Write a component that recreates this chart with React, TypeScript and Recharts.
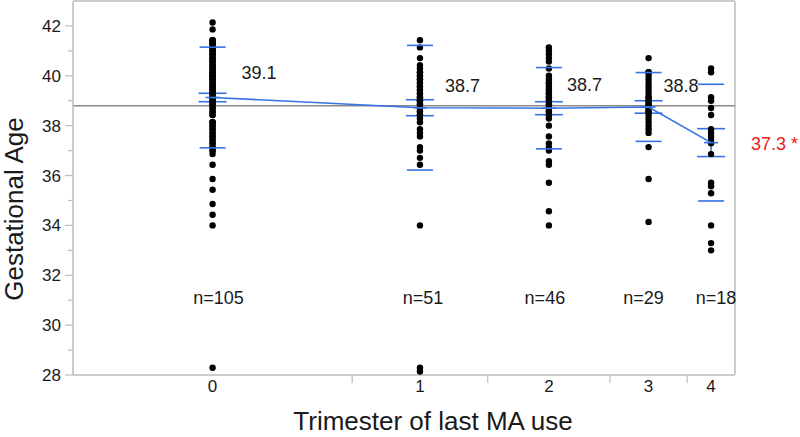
import {
  ComposedChart,
  Scatter,
  XAxis,
  YAxis,
  ReferenceLine,
  ErrorBar,
  Label,
} from "recharts";

// groups on the x axis (JMP widths are proportional to n)
const categories = ["0", "1", "2", "3", "4"];
const groupCounts = [105, 51, 46, 29, 18];

// gestational age per group
const group0 = [
  28.29, 34.0, 34.43, 34.86, 35.43, 35.86, 36.43, 36.86, 37.0, 37.0, 37.14,
  37.14, 37.29, 37.29, 37.43, 37.43, 37.57, 37.57, 37.71, 37.71, 37.86, 37.86,
  38.0, 38.0, 38.14, 38.14, 38.14, 38.43, 38.43, 38.57, 38.57, 38.71, 38.71,
  38.86, 38.86, 38.86, 39.0, 39.0, 39.0, 39.14, 39.14, 39.14, 39.29, 39.29,
  39.29, 39.43, 39.43, 39.43, 39.57, 39.57, 39.57, 39.71, 39.71, 39.71, 39.86,
  39.86, 39.86, 40.0, 40.0, 40.0, 40.0, 40.14, 40.14, 40.14, 40.29, 40.29,
  40.29, 40.43, 40.43, 40.43, 40.57, 40.57, 40.57, 40.71, 40.71, 40.71, 40.86,
  40.86, 40.86, 41.0, 41.0, 41.0, 41.14, 41.14, 41.14, 41.29, 41.29, 41.29,
  41.43, 41.43, 41.43, 41.86, 42.14,
];
const group1 = [
  28.14, 28.29, 34.0, 36.43, 36.71, 37.0, 37.14, 37.57, 37.71, 37.86, 38.14,
  38.29, 38.43, 38.43, 38.57, 38.57, 38.71, 38.71, 38.71, 38.86, 38.86, 39.0,
  39.0, 39.0, 39.14, 39.14, 39.29, 39.29, 39.43, 39.43, 39.57, 39.57, 39.71,
  39.71, 39.86, 39.86, 40.0, 40.0, 40.14, 40.14, 40.29, 40.43, 40.71, 41.14,
  41.43,
];
const group2 = [
  34.0, 34.57, 35.71, 36.43, 36.57, 37.0, 37.14, 37.29, 37.57, 38.0, 38.29,
  38.43, 38.43, 38.57, 38.57, 38.71, 38.71, 38.86, 38.86, 39.0, 39.0, 39.14,
  39.14, 39.29, 39.29, 39.43, 39.43, 39.57, 39.71, 39.71, 39.86, 40.0, 40.29,
  40.57, 40.71, 40.86, 41.0, 41.14,
];
const group3 = [
  34.14, 35.86, 37.14, 37.71, 37.86, 38.0, 38.14, 38.29, 38.43, 38.57, 38.57,
  38.71, 38.71, 38.86, 38.86, 39.0, 39.0, 39.14, 39.14, 39.29, 39.43, 39.57,
  39.71, 39.86, 40.0, 40.14, 40.14, 40.71,
];
const group4 = [
  33.0, 33.29, 34.0, 35.29, 35.57, 35.71, 36.86, 37.29, 37.43, 37.57, 37.71,
  37.86, 38.43, 38.71, 39.0, 39.14, 40.14, 40.29,
];
const groupValues = [group0, group1, group2, group3, group4];

// summary stats
const means = [39.13, 38.72, 38.7, 38.75, 37.32];
const stdErrs = [0.17, 0.32, 0.26, 0.25, 0.56];
const stdDevs = [2.02, 2.5, 1.63, 1.38, 2.34];
const meanLabels = ["39.1", "38.7", "38.7", "38.8", "37.3 *"];
const grandMean = 38.8;
const nLabelValue = 31.1;

const yTicks = [28, 29, 30, 31, 32, 33, 34, 35, 36, 37, 38, 39, 40, 41, 42];

const FONT = "'Liberation Sans', Arial, sans-serif";
const BLUE = "#3572e6";
const AXIS = "#bdbdbd";
const TEXT = "#1a1a1a";

// pixel nudges for the text labels
const meanLabelOffsets = [
  [29, -24],
  [25, -22],
  [18, -23],
  [15, -21],
  [40, 1],
];
const nLabelOffsets = [6, 3, -4, -5, 5];

// cumulative widths -> group centers and divider ticks
const total = groupCounts.reduce((a, b) => a + b, 0);
const centers: number[] = [];
const dividers: number[] = [];
let acc = 0;
groupCounts.forEach((c, i) => {
  centers.push(acc + c / 2);
  acc += c;
  if (i < groupCounts.length - 1) dividers.push(acc);
});
const xTicks = [...centers, ...dividers].sort((a, b) => a - b);

const pointData = groupValues.flatMap((vals, i) =>
  vals.map((v) => ({ x: centers[i], y: v }))
);
const meanData = means.map((m, i) => ({
  x: centers[i],
  y: m,
  se: stdErrs[i],
  idx: i,
}));
const sdData = means.flatMap((m, i) => [
  { x: centers[i], y: m + stdDevs[i] },
  { x: centers[i], y: m - stdDevs[i] },
]);
const nData = groupCounts.map((n, i) => ({ x: centers[i], y: nLabelValue, idx: i }));

const XTick = (props: any) => {
  const { x, y, payload } = props;
  const ci = centers.indexOf(payload.value);
  if (ci < 0) {
    return <line x1={x} x2={x} y1={y} y2={y + 8} stroke={AXIS} strokeWidth={1.2} />;
  }
  return (
    <text x={x} y={y + 17} textAnchor="middle" fontSize={17} fill={TEXT} fontFamily={FONT}>
      {categories[ci]}
    </text>
  );
};

const YTick = (props: any) => {
  const { x, y, payload } = props;
  const major = payload.value % 2 === 0;
  return (
    <g>
      <line x1={x - (major ? 8 : 5)} x2={x} y1={y} y2={y} stroke={AXIS} strokeWidth={1.2} />
      {major && (
        <text x={x - 12} y={y + 6} textAnchor="end" fontSize={17} fill={TEXT} fontFamily={FONT}>
          {payload.value}
        </text>
      )}
    </g>
  );
};

export default function App() {
  return (
    <div style={{ position: "absolute", left: 0, top: 0, width: 800, height: 437, background: "#fff" }}>
      <ComposedChart
        width={800}
        height={437}
        margin={{ top: 1, right: 65, left: 0, bottom: 0 }}
      >
        <XAxis
          type="number"
          dataKey="x"
          domain={[0, total]}
          ticks={xTicks}
          interval={0}
          tickSize={0}
          tickMargin={0}
          tickLine={false}
          tick={<XTick />}
          height={62}
          stroke={AXIS}
          axisLine={{ stroke: AXIS, strokeWidth: 1.5 }}
        >
          <Label
            content={(p: any) => {
              const vb = p.viewBox;
              return (
                <text
                  x={vb.x + vb.width / 2 + 29}
                  y={430}
                  textAnchor="middle"
                  fontSize={26}
                  fill={TEXT}
                  fontFamily={FONT}
                >
                  Trimester of last MA use
                </text>
              );
            }}
          />
        </XAxis>
        <YAxis
          type="number"
          dataKey="y"
          domain={[28, 43]}
          ticks={yTicks}
          interval={0}
          tickSize={0}
          tickMargin={0}
          tickLine={false}
          tick={<YTick />}
          width={73}
          axisLine={{ stroke: AXIS, strokeWidth: 1.5 }}
        >
          <Label
            content={(p: any) => {
              const vb = p.viewBox;
              const cy = vb.y + 208;
              return (
                <text
                  x={23}
                  y={cy}
                  transform={`rotate(-90 23 ${cy})`}
                  textAnchor="middle"
                  fontSize={26}
                  fill={TEXT}
                  fontFamily={FONT}
                >
                  Gestational Age
                </text>
              );
            }}
          />
        </YAxis>

        <ReferenceLine y={43} stroke={AXIS} strokeWidth={1.5} />
        <ReferenceLine x={total} stroke={AXIS} strokeWidth={1.5} />
        <ReferenceLine y={grandMean} stroke="#8a8a8a" strokeWidth={1.5} />

        <Scatter
          data={pointData}
          isAnimationActive={false}
          shape={(p: any) => <circle cx={p.cx} cy={p.cy} r={3.2} fill="#000" />}
        />

        <Scatter
          data={sdData}
          isAnimationActive={false}
          shape={(p: any) => (
            <line x1={p.cx - 13} x2={p.cx + 13} y1={p.cy} y2={p.cy} stroke={BLUE} strokeWidth={1.6} />
          )}
        />

        <Scatter
          data={meanData}
          isAnimationActive={false}
          line={{ stroke: BLUE, strokeWidth: 1.6 }}
          shape={(p: any) => (
            <line x1={p.cx - 7} x2={p.cx + 7} y1={p.cy} y2={p.cy} stroke={BLUE} strokeWidth={1.6} />
          )}
        >
          <ErrorBar dataKey="se" direction="y" width={14} stroke={BLUE} strokeWidth={1.6} />
        </Scatter>

        <Scatter
          data={meanData}
          isAnimationActive={false}
          shape={(p: any) => {
            const i = p.payload.idx;
            const [dx, dy] = meanLabelOffsets[i];
            return (
              <text
                x={p.cx + dx}
                y={p.cy + dy + 6}
                fontSize={18}
                fill={i === 4 ? "#f01818" : TEXT}
                fontFamily={FONT}
              >
                {meanLabels[i]}
              </text>
            );
          }}
        />

        <Scatter
          data={nData}
          isAnimationActive={false}
          shape={(p: any) => {
            const i = p.payload.idx;
            return (
              <text
                x={p.cx + nLabelOffsets[i]}
                y={p.cy + 6}
                textAnchor="middle"
                fontSize={18}
                fill={TEXT}
                fontFamily={FONT}
              >
                {`n=${groupCounts[i]}`}
              </text>
            );
          }}
        />
      </ComposedChart>
    </div>
  );
}
